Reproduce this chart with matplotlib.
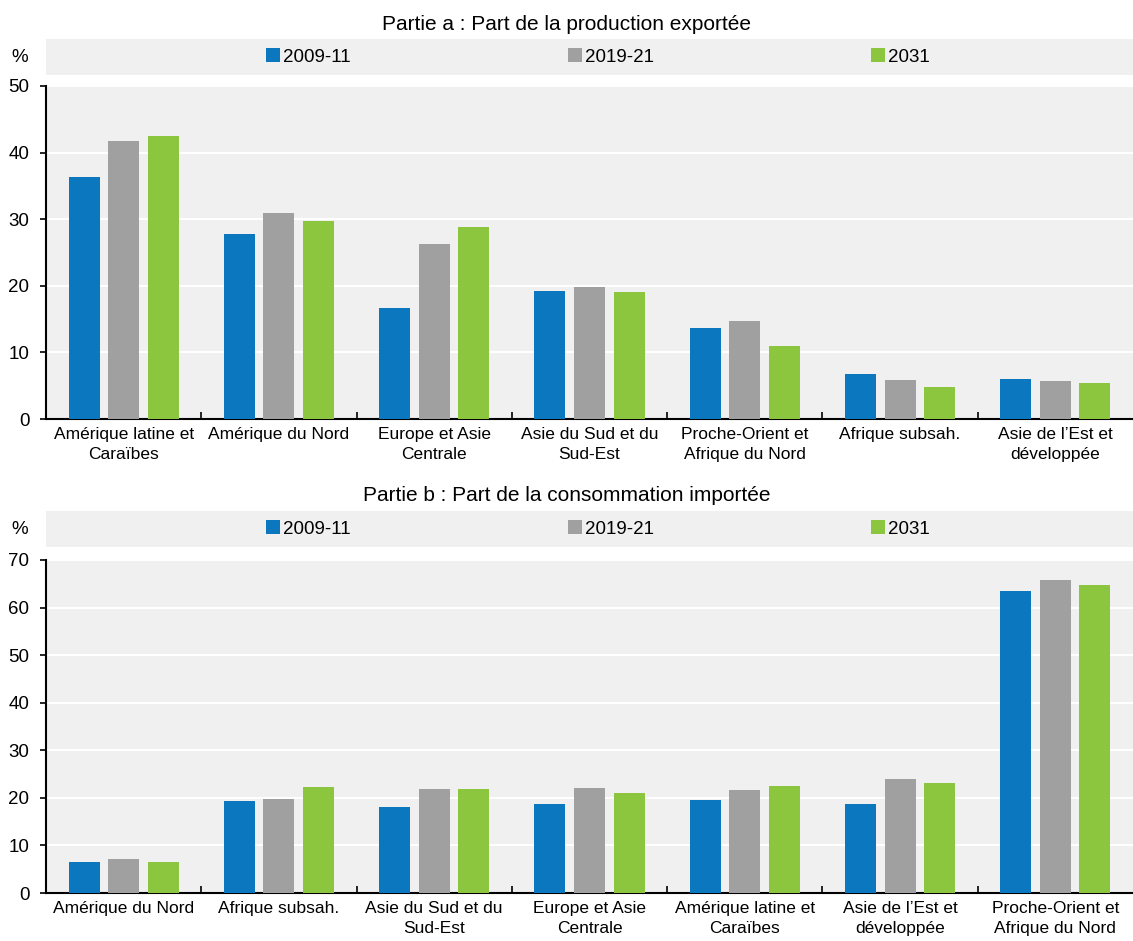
import numpy as np
import matplotlib
matplotlib.use('agg')
import matplotlib.pyplot as plt
from matplotlib.patches import Patch, Rectangle

plt.rcParams['font.family'] = ['Liberation Sans Narrow', 'Liberation Sans', 'DejaVu Sans']
plt.rcParams['font.size'] = 13.5

## data
series = ['2009-11', '2019-21', '2031']
colors = ['#0b77bf', '#a0a0a0', '#8cc63f']

cats_a = ['Amérique latine et\nCaraïbes', 'Amérique du Nord', 'Europe et Asie\nCentrale',
          'Asie du Sud et du\nSud-Est', 'Proche-Orient et\nAfrique du Nord', 'Afrique subsah.',
          'Asie de l\u2019Est et\ndéveloppée']
a_2009 = [36.3, 27.8, 16.7, 19.2, 13.7, 6.8, 6.0]
a_2019 = [41.7, 30.9, 26.3, 19.8, 14.7, 5.9, 5.7]
a_2031 = [42.5, 29.7, 28.8, 19.1, 11.0, 4.8, 5.4]

cats_b = ['Amérique du Nord', 'Afrique subsah.', 'Asie du Sud et du\nSud-Est',
          'Europe et Asie\nCentrale', 'Amérique latine et\nCaraïbes',
          'Asie de l\u2019Est et\ndéveloppée', 'Proche-Orient et\nAfrique du Nord']
b_2009 = [6.5, 19.3, 18.1, 18.7, 19.5, 18.7, 63.5]
b_2019 = [7.1, 19.8, 21.9, 22.1, 21.7, 24.0, 65.8]
b_2031 = [6.5, 22.3, 21.9, 21.0, 22.5, 23.1, 64.7]

titles = ['Partie a : Part de la production exportée', 'Partie b : Part de la consommation importée']

fig = plt.figure(figsize=(11.33, 9.41), dpi=100)
W, H = 1133., 941.

def panel(cats, vals, ymax, top_px, bot_px, leg_px, title_px, title):
	ax = fig.add_axes([46/W, 1-bot_px/H, 1-46/W, (bot_px-top_px)/H])
	ax.set_facecolor('#f0f0f0')
	x = np.arange(len(cats))
	bw = 0.2
	for k, (v, c) in enumerate(zip(vals, colors)):
		ax.bar(x + (k-1)*0.255, v, bw, color=c, zorder=3)
	ax.set_xlim(-0.5, len(cats)-0.5)
	ax.set_ylim(0, ymax)
	ax.set_yticks(np.arange(0, ymax+1, 10))
	ax.yaxis.grid(True, color='white', lw=1.5, zorder=0)
	ax.set_xticks(x)
	ax.set_xticklabels(cats, linespacing=1.35, fontsize=12.5)
	ax.tick_params(axis='x', length=0, pad=6)
	ax.set_xticks(np.arange(0.5, len(cats)-0.5, 1), minor=True)
	ax.tick_params(axis='x', which='minor', direction='in', length=5, width=1.2)
	ax.tick_params(axis='y', length=4, width=1.2, pad=8)
	for s in ['top', 'right']:
		ax.spines[s].set_visible(False)
	for s in ['left', 'bottom']:
		ax.spines[s].set_linewidth(1.5)
	# legend strip
	y0 = 1-(leg_px+18)/H
	fig.patches.append(Rectangle((46/W, y0), 1-46/W, 36/H, transform=fig.transFigure,
		facecolor='#f0f0f0', edgecolor='none', zorder=0))
	handles = [Patch(facecolor=c, edgecolor='none') for c in colors]
	fig.legend(handles, series, loc='center', bbox_to_anchor=(598/W, 1-leg_px/H), ncol=3,
		frameon=False, handlelength=0.75, handleheight=0.75, handletextpad=0.15,
		columnspacing=11.6, fontsize=13.5)
	fig.text(20/W, 1-leg_px/H, '%', ha='center', va='center', fontsize=13.5)
	fig.text(0.5, 1-title_px/H, title, ha='center', va='center', fontsize=15)
	return ax

panel(cats_a, [a_2009, a_2019, a_2031], 50, 86, 419, 57, 25, titles[0])
panel(cats_b, [b_2009, b_2019, b_2031], 70, 560, 893, 529, 496, titles[1])

fig.savefig('out.png', dpi=100)
